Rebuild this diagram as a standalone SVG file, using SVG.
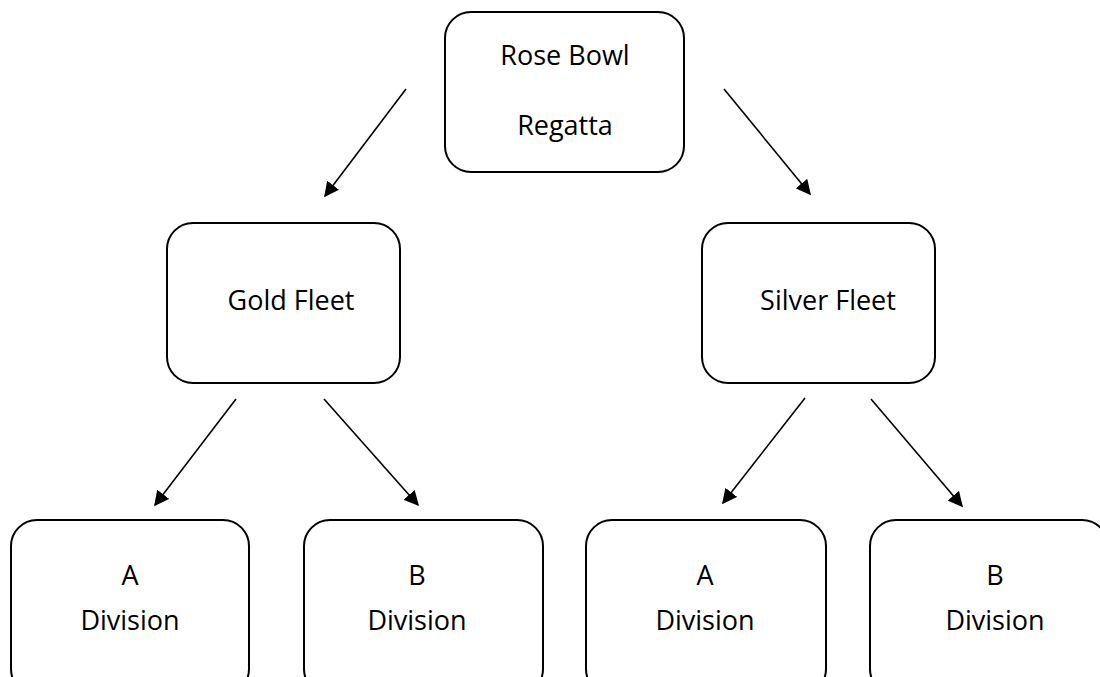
<svg xmlns="http://www.w3.org/2000/svg" width="1100" height="677" viewBox="0 0 1100 677">
<style>
.box{fill:#fff;stroke:#000;stroke-width:2}
.t{font-family:"Open Sans","Noto Sans","Liberation Sans",sans-serif;font-size:27px;fill:#000;text-anchor:middle}
.c{stroke:#000;stroke-width:1.6;fill:none;marker-end:url(#ah)}
</style>
<defs>
<marker id="ah" viewBox="0 0 10 10" refX="9" refY="5" markerWidth="15" markerHeight="15" markerUnits="userSpaceOnUse" orient="auto"><path d="M0,0 L10,5 L0,10 z" fill="#000"/></marker>
</defs>
<g id="connectors">
<line class="c" x1="406" y1="89" x2="325" y2="196"/>
<line class="c" x1="724" y1="89" x2="810" y2="194"/>
<line class="c" x1="236" y1="399" x2="155" y2="505"/>
<line class="c" x1="324" y1="399" x2="418" y2="505"/>
<line class="c" x1="805" y1="398" x2="723" y2="503"/>
<line class="c" x1="871" y1="399" x2="962" y2="506"/>
</g>
<g id="rose-bowl">
<rect class="box" x="445" y="12" width="239" height="160" rx="26"/>
<text class="t" x="565" y="65">Rose Bowl</text>
<text class="t" x="565" y="135">Regatta</text>
</g>
<g id="gold-fleet">
<rect class="box" x="167" y="223" width="233" height="160" rx="26"/>
<text class="t" x="291" y="310">Gold Fleet</text>
</g>
<g id="silver-fleet">
<rect class="box" x="702" y="223" width="233" height="160" rx="26"/>
<text class="t" x="828" y="310">Silver Fleet</text>
</g>
<g id="gold-a">
<rect class="box" x="11" y="520" width="238" height="175" rx="26"/>
<text class="t" x="130" y="585">A</text>
<text class="t" x="130" y="630">Division</text>
</g>
<g id="gold-b">
<rect class="box" x="304" y="520" width="239" height="175" rx="26"/>
<text class="t" x="417" y="585">B</text>
<text class="t" x="417" y="630">Division</text>
</g>
<g id="silver-a">
<rect class="box" x="586" y="520" width="240" height="175" rx="26"/>
<text class="t" x="705" y="585">A</text>
<text class="t" x="705" y="630">Division</text>
</g>
<g id="silver-b">
<rect class="box" x="870" y="520" width="238" height="175" rx="26"/>
<text class="t" x="995" y="585">B</text>
<text class="t" x="995" y="630">Division</text>
</g>
</svg>
